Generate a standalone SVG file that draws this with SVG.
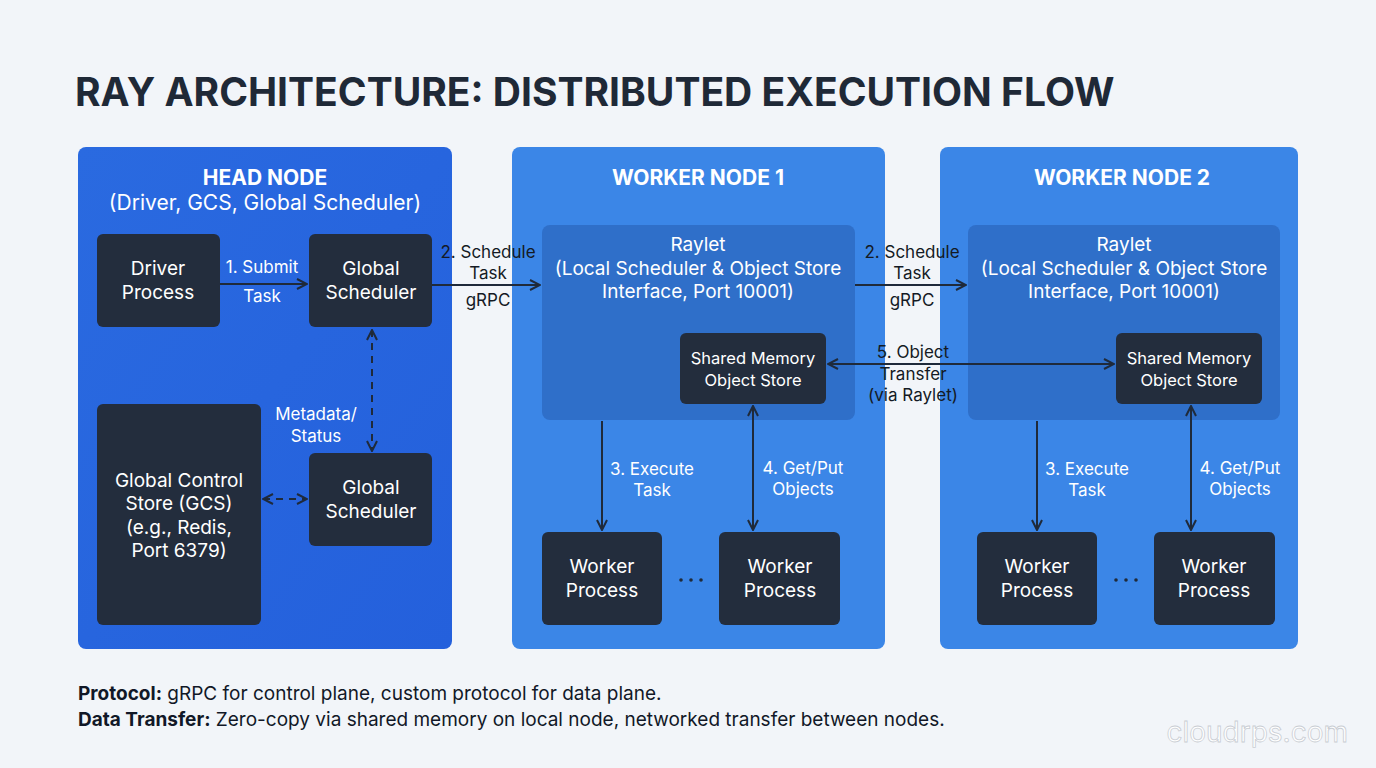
<svg xmlns="http://www.w3.org/2000/svg" width="1376" height="768" viewBox="0 0 1376 768">
<style>
text{font-family:Inter,"Noto Sans","Liberation Sans",sans-serif;}
.dk{fill:#232d3d;}
.w{fill:#fff;font-size:19px;text-anchor:middle;}
.w16{fill:#fff;font-size:16.5px;text-anchor:middle;}
.wb{fill:#fff;font-size:21px;font-weight:bold;text-anchor:middle;}
.k{fill:#141a24;font-size:17px;text-anchor:middle;}
.lw{fill:#fff;font-size:17px;text-anchor:middle;}
.ln{stroke:#1f2a3a;stroke-width:2;fill:none;}
.ds{stroke-dasharray:7 6;}
.dot{fill:#1f2a3a;}
</style>
<defs>
<marker id="a" viewBox="0 0 12 12" refX="11" refY="6" markerWidth="12" markerHeight="12" markerUnits="userSpaceOnUse" orient="auto-start-reverse"><path d="M1 1L11 6L1 11" fill="none" stroke="#1f2a3a" stroke-width="2"/></marker>
<linearGradient id="hg" x1="0" y1="0" x2="1" y2="1"><stop offset="0" stop-color="#2a6ae0"/><stop offset="1" stop-color="#2460dc"/></linearGradient>
</defs>
<rect width="1376" height="768" fill="#f2f5f9"/>
<text x="75" y="106" font-size="39" font-weight="bold" fill="#1f2937">RAY ARCHITECTURE: DISTRIBUTED EXECUTION FLOW</text>
<g id="head">
<rect x="78" y="147" width="374" height="502" rx="8" fill="url(#hg)"/>
<text class="wb" x="265" y="185">HEAD NODE</text>
<text class="wb" x="265" y="210" style="font-weight:normal">(Driver, GCS, Global Scheduler)</text>
</g>
<g id="driver"><rect class="dk" x="97" y="234" width="123" height="93" rx="6"/><text class="w" x="158" y="275">Driver</text><text class="w" x="158" y="299">Process</text></g>
<g id="gs1"><rect class="dk" x="309" y="234" width="123" height="93" rx="6"/><text class="w" x="371" y="275">Global</text><text class="w" x="371" y="299">Scheduler</text></g>
<g id="gcs"><rect class="dk" x="97" y="404" width="164" height="221" rx="6"/><text class="w" x="179" y="487">Global Control</text><text class="w" x="179" y="510">Store (GCS)</text><text class="w" x="179" y="534">(e.g., Redis,</text><text class="w" x="179" y="557">Port 6379)</text></g>
<g id="gs2"><rect class="dk" x="309" y="453" width="123" height="93" rx="6"/><text class="w" x="371" y="494">Global</text><text class="w" x="371" y="518">Scheduler</text></g>
<g id="worker1">
<rect x="512" y="147" width="373" height="502" rx="8" fill="#3b86e7"/>
<text class="wb" x="698" y="185">WORKER NODE 1</text>
</g>
<g id="raylet1"><rect x="542" y="225" width="313" height="195" rx="8" fill="#2f6fc9"/><text class="w" x="698" y="251">Raylet</text><text class="w" x="698" y="275">(Local Scheduler &amp; Object Store</text><text class="w" x="698" y="298">Interface, Port 10001)</text></g>
<g id="sm1"><rect class="dk" x="680" y="333" width="146" height="71" rx="6"/><text class="w16" x="753" y="364">Shared Memory</text><text class="w16" x="753" y="386">Object Store</text></g>
<g id="wp1a"><rect class="dk" x="542" y="532" width="120" height="93" rx="6"/><text class="w" x="602" y="573">Worker</text><text class="w" x="602" y="597">Process</text></g>
<g id="wp1b"><rect class="dk" x="719" y="532" width="121" height="93" rx="6"/><text class="w" x="780" y="573">Worker</text><text class="w" x="780" y="597">Process</text></g>
<circle class="dot" cx="681" cy="580" r="1.8"/><circle class="dot" cx="691" cy="580" r="1.8"/><circle class="dot" cx="701" cy="580" r="1.8"/>
<g id="worker2">
<rect x="940" y="147" width="358" height="502" rx="8" fill="#3b86e7"/>
<text class="wb" x="1122" y="185">WORKER NODE 2</text>
</g>
<g id="raylet2"><rect x="968" y="225" width="312" height="195" rx="8" fill="#2f6fc9"/><text class="w" x="1124" y="251">Raylet</text><text class="w" x="1124" y="275">(Local Scheduler &amp; Object Store</text><text class="w" x="1124" y="298">Interface, Port 10001)</text></g>
<g id="sm2"><rect class="dk" x="1116" y="333" width="146" height="71" rx="6"/><text class="w16" x="1189" y="364">Shared Memory</text><text class="w16" x="1189" y="386">Object Store</text></g>
<g id="wp2a"><rect class="dk" x="977" y="532" width="120" height="93" rx="6"/><text class="w" x="1037" y="573">Worker</text><text class="w" x="1037" y="597">Process</text></g>
<g id="wp2b"><rect class="dk" x="1154" y="532" width="121" height="93" rx="6"/><text class="w" x="1214" y="573">Worker</text><text class="w" x="1214" y="597">Process</text></g>
<circle class="dot" cx="1116" cy="580" r="1.8"/><circle class="dot" cx="1126" cy="580" r="1.8"/><circle class="dot" cx="1136" cy="580" r="1.8"/>
<g id="connectors">
<path class="ln" d="M220 284H307" marker-end="url(#a)"/>
<path class="ln" d="M432 285H540" marker-end="url(#a)"/>
<path class="ln" d="M855 285H966" marker-end="url(#a)"/>
<path class="ln" d="M828 364H1114" marker-start="url(#a)" marker-end="url(#a)"/>
<path class="ln ds" d="M372 330V451" marker-start="url(#a)" marker-end="url(#a)"/>
<path class="ln ds" d="M263 499H307" marker-start="url(#a)" marker-end="url(#a)"/>
<path class="ln" d="M602 421V530" marker-end="url(#a)"/>
<path class="ln" d="M753 406V530" marker-start="url(#a)" marker-end="url(#a)"/>
<path class="ln" d="M1037 421V530" marker-end="url(#a)"/>
<path class="ln" d="M1191 406V530" marker-start="url(#a)" marker-end="url(#a)"/>
</g>
<g id="labels">
<text class="lw" x="262" y="273">1. Submit</text><text class="lw" x="262" y="302">Task</text>
<text class="k" x="488" y="258">2. Schedule</text><text class="k" x="488" y="279">Task</text><text class="k" x="488" y="306">gRPC</text>
<text class="k" x="912" y="258">2. Schedule</text><text class="k" x="912" y="279">Task</text><text class="k" x="912" y="306">gRPC</text>
<text class="k" x="913" y="358">5. Object</text><text class="k" x="913" y="380">Transfer</text><text class="k" x="913" y="401">(via Raylet)</text>
<text class="lw" x="316" y="420">Metadata/</text><text class="lw" x="316" y="442">Status</text>
<text class="lw" x="652" y="475">3. Execute</text><text class="lw" x="652" y="496">Task</text>
<text class="lw" x="803" y="474">4. Get/Put</text><text class="lw" x="803" y="495">Objects</text>
<text class="lw" x="1087" y="475">3. Execute</text><text class="lw" x="1087" y="496">Task</text>
<text class="lw" x="1240" y="474">4. Get/Put</text><text class="lw" x="1240" y="495">Objects</text>
</g>
<text x="78" y="700" font-size="19" fill="#111827"><tspan font-weight="bold">Protocol:</tspan> gRPC for control plane, custom protocol for data plane.</text>
<text x="78" y="726" font-size="19" fill="#111827"><tspan font-weight="bold">Data Transfer:</tspan> Zero-copy via shared memory on local node, networked transfer between nodes.</text>
<text x="1348" y="742" font-size="28" fill="#ffffff" stroke="#c9cdd3" stroke-width="0.8" text-anchor="end">cloudrps.com</text>
</svg>
